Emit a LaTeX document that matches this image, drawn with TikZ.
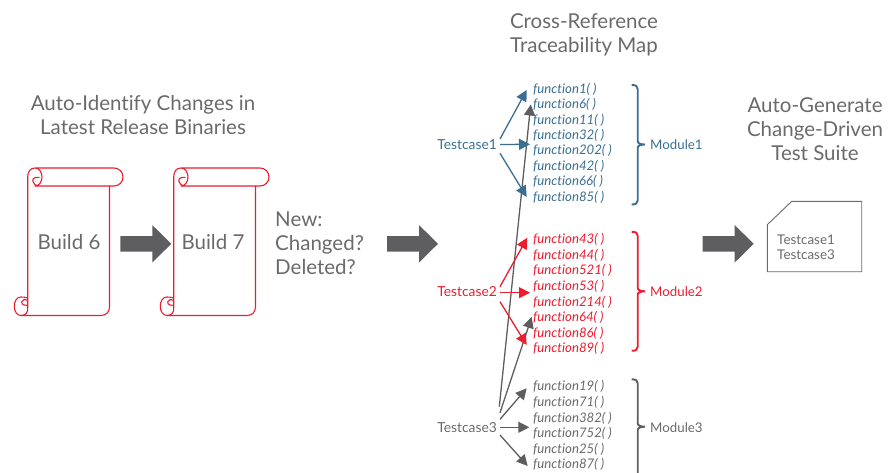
\documentclass[tikz,border=0pt]{standalone}
\usepackage{fontspec}
\setmainfont[Ligatures={NoCommon}]{Lato}
\usetikzlibrary{arrows.meta}
\definecolor{bluec}{HTML}{3A6F93}
\definecolor{redc}{HTML}{ED1C2E}
\definecolor{grayc}{HTML}{5E5E60}
\definecolor{textc}{HTML}{6A6A6C}
\tikzset{
  x=1pt,y=-1pt,
  title/.style={font=\fontsize{20.5}{24}\selectfont,text=textc,align=center,inner sep=0pt},
  fn/.style={font=\fontsize{13.2}{13.2}\selectfont\itshape,anchor=west,inner sep=0pt},
  tc/.style={font=\fontsize{13.8}{13.8}\selectfont,anchor=east,inner sep=0pt,minimum height=14pt},
  md/.style={font=\fontsize{13.3}{13.3}\selectfont,anchor=west,inner sep=0pt},
  link/.style={line width=1.3pt,-{Triangle[length=11pt,width=11pt]}},
  brc/.style={line width=1.9pt},
  scrollline/.style={draw=redc,line width=1.1pt},
  bigarrow/.pic={\fill[grayc] (0,-7.8)--(32,-7.8)--(32,-18.7)--(51,0)--(32,18.7)--(32,7.8)--(0,7.8)--cycle;},
  scrollshape/.pic={
    \draw[scrollline,line join=round]
      (27.7,308) -- (27.7,177) .. controls (27.7,172) and (30,168) .. (35,168) -- (114,168)
      .. controls (119,168) and (123,172) .. (123,177) .. controls (123,182) and (119,186) .. (114,186)
      -- (35,186) .. controls (39,186) and (42,182) .. (42,177) .. controls (42,172) and (39,168) .. (35,168);
    \draw[scrollline] (37.7,186) .. controls (33,185) and (30.5,178) .. (35.5,177.5) .. controls (37,177.3) and (38.5,177.3) .. (39.5,177.5);
    \draw[scrollline] (109.5,186) -- (109.5,307) .. controls (109.5,312) and (106,315.5) .. (101,315.5) -- (21,315.5);
    \draw[scrollline] (27.7,298) .. controls (25.5,297.2) and (23,297) .. (21,297) .. controls (17,297) and (14.3,301) .. (14.3,306.2) .. controls (14.3,311.5) and (17,315.5) .. (21,315.5) .. controls (26,315.5) and (28,312) .. (27.7,308);
    \draw[scrollline] (27.7,305.5) .. controls (25,305.5) and (21.5,305) .. (21.7,302) .. controls (22,299.5) and (25,299) .. (27.7,300.5);
  },
  brace/.pic={
    \draw[brc,pic actions] (-6,-\bup) .. controls (-2,-\bup) and (0,-\bup+1) .. (0,-\bup+4) -- (0,-3.5) .. controls (0,-1) and (3,0) .. (7.3,0) .. controls (3,0) and (0,1) .. (0,3.5) -- (0,\bdn-4) .. controls (0,\bdn-1) and (-2,\bdn) .. (-6,\bdn);
  }
}
\begin{document}
\begin{tikzpicture}
\useasboundingbox (0,0) rectangle (896,473);
\node[title] (t1) at (143,115.5) {Auto-Identify Changes in\\Latest Release Binaries};
\node[title] (t2) at (584,34.5) {Cross-Reference\\Traceability Map};
\node[title] (t3) at (815,129.5) {Auto-Generate\\Change-Driven\\Test Suite};
\node[title,align=left,anchor=west] (t4) at (275,243) {New:\\Changed?\\Deleted?};
\pic at (0,0) {scrollshape};
\pic at (146,0) {scrollshape};
\node[title] (b6) at (69,242) {Build 6};
\node[title] (b7) at (213,242) {Build 7};
\pic at (120.3,243.8) {bigarrow};
\pic at (387,243.8) {bigarrow};
\pic at (702.7,243.8) {bigarrow};
% doc
\draw[draw=textc,line width=0.9pt] (767.3,224.7)--(791.7,201.3)--(861.7,201.3)--(861.7,271.7)--(767.3,271.7)--cycle;
\node[font=\fontsize{13.4}{15.3}\selectfont,text=textc,align=left,anchor=west,inner sep=0pt] (suite) at (777,247.5) {Testcase1\\Testcase3};
% module 1
\begin{scope}[every node/.style={text=bluec}]
\foreach \n/\t/\y in {f1/function1/89,f6/function6/104.5,f11/function11/120,f32/function32/135,f202/function202/150.5,f42/function42/166,f66/function66/181.5,f85/function85/197}
  \node[fn] (\n) at (533,\y) {\t( )};
\node[tc] (tc1) at (497,144.5) {Testcase1};
\node[md] (m1) at (650,144.5) {Module1};
\end{scope}
% module 2
\begin{scope}[every node/.style={text=redc}]
\foreach \n/\t/\y in {f43/function43/239,f44/function44/255,f521/function521/270.5,f53/function53/286,f214/function214/302,f64/function64/317,f86/function86/333,f89/function89/348}
  \node[fn] (\n) at (533,\y) {\t( )};
\node[tc] (tc2) at (497,292) {Testcase2};
\node[md] (m2) at (650,291.5) {Module2};
\end{scope}
% module 3
\begin{scope}[every node/.style={text=textc}]
\foreach \n/\t/\y in {f19/function19/386.7,f71/function71/402.7,f382/function382/418.7,f752/function752/433.5,f25/function25/449.5,f87/function87/464.7}
  \node[fn] (\n) at (533,\y) {\t( )};
\node[tc] (tc3) at (497,427.2) {Testcase3};
\node[md] (m3) at (650,427.2) {Module3};
\end{scope}
% free ends
\coordinate (e1) at (530,144.3);
\coordinate (e2) at (530,292.7);
\coordinate (e3) at (529.3,427.3);
% braces
\def\bup{59.5}\def\bdn{60}
\pic[bluec] at (637.7,144.5) {brace};
\def\bup{59.5}\def\bdn{59.5}
\pic[redc] at (637.7,291.3) {brace};
\def\bup{47.4}\def\bdn{60}
\pic[grayc] at (637.7,426.7) {brace};
% gray long links under
\draw[link,grayc] ([xshift=2.3pt,yshift=20.5pt]tc3.east) -- ([xshift=-2.3pt]f6.west);
\draw[link,grayc] ([xshift=3pt,yshift=14.5pt]tc3.east) -- ([xshift=-1.3pt]f64.west);
\draw[link,bluec] ([xshift=3pt,yshift=5.5pt]tc1.east) -- ([xshift=-6.3pt,yshift=-1pt]f1.west);
\draw[link,bluec] (tc1.east) ++(3,0) -- (e1);
\draw[link,bluec] ([xshift=3pt,yshift=-8.8pt]tc1.east) -- ([xshift=-6.3pt]f85.west);
\draw[link,redc] ([xshift=3pt,yshift=5.3pt]tc2.east) -- ([xshift=-5.7pt,yshift=1.3pt]f43.west);
\draw[link,redc] (tc2.east) ++(3,.7) -- (e2);
\draw[link,redc] ([xshift=3pt,yshift=-9.7pt]tc2.east) -- ([xshift=-6.3pt,yshift=3pt]f89.west);
\draw[link,grayc] ([xshift=3pt,yshift=7.9pt]tc3.east) -- ([xshift=-6.3pt,yshift=-1.6pt]f19.west);
\draw[link,grayc] (tc3.east) ++(3,.1) -- (e3);
\draw[link,grayc] ([xshift=3pt,yshift=-7.8pt]tc3.east) -- ([xshift=-5.3pt,yshift=-1.3pt]f87.west);
\end{tikzpicture}
\end{document}
